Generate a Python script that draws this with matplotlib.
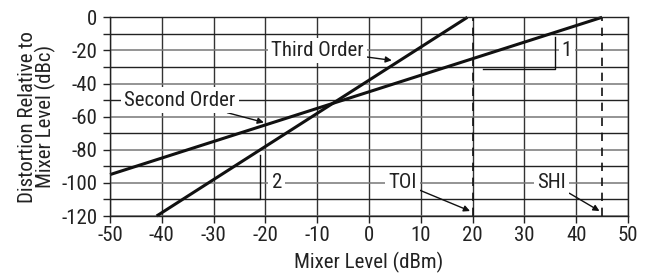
import matplotlib
matplotlib.use("Agg")
import matplotlib.pyplot as plt
from matplotlib.ticker import MultipleLocator

plt.rcParams['font.family'] = ['Roboto Condensed', 'Archivo Narrow', 'PT Sans Narrow', 'DejaVu Sans']
plt.rcParams['axes.unicode_minus'] = False

# Data
second_x = [-50, 45]
second_y = [-95, 0]
third_x = [-41, 19]
third_y = [-120, 0]
toi_x = 20
shi_x = 45
tri2_x = [-30, -21, -21]
tri2_y = [-110, -110, -83]
tri1_x = [22, 36, 36]
tri1_y = [-31, -31, -12]

x_ticks = list(range(-50, 51, 10))
y_ticks = list(range(-120, 1, 20))

fig = plt.figure(figsize=(6.46, 2.78), dpi=100)
ax = fig.add_axes([0.1703, 0.2230, 0.8018, 0.7148])

ax.set_xlim(-50, 50)
ax.set_ylim(-120, 0)
ax.set_xticks(x_ticks)
ax.set_yticks(y_ticks)
ax.yaxis.set_minor_locator(MultipleLocator(10))

fs = 15
ax.tick_params(axis='both', which='both', direction='out', length=5, width=1,
               labelsize=fs, colors='#222222')
ax.tick_params(axis='x', pad=2)
ax.tick_params(axis='y', pad=4)

# grid
ax.grid(True, which='major', axis='x', color='#333333', linewidth=1, zorder=0)
ax.grid(True, which='major', axis='y', color='#777777', linewidth=1.1, zorder=0)
ax.grid(True, which='minor', axis='y', color='#222222', linewidth=1, zorder=0)
ax.set_axisbelow(True)
for s in ax.spines.values():
    s.set_color('#222222')
    s.set_linewidth(1)

ax.plot(second_x, second_y, color='#111111', lw=2.2, solid_capstyle='butt', zorder=2, clip_on=False)
ax.plot(third_x, third_y, color='#111111', lw=2.2, solid_capstyle='butt', zorder=2, clip_on=False)
ax.plot([toi_x, toi_x], [-120, 0], color='#111111', lw=1.2, ls=(0, (5, 4)), zorder=2)
ax.plot([shi_x, shi_x], [-120, 0], color='#111111', lw=1.2, ls=(0, (5, 4)), zorder=2)
ax.plot(tri2_x, tri2_y, color='#111111', lw=1, zorder=2)
ax.plot(tri1_x, tri1_y, color='#111111', lw=1, zorder=2)

bb = dict(boxstyle='square,pad=0.15', fc='white', ec='none')
ap = dict(arrowstyle='-|>', color='#111111', lw=1, mutation_scale=9, shrinkA=0, shrinkB=0)

ax.annotate('Third Order', xy=(4.4, -26), xytext=(-10, -20), fontsize=fs,
            ha='center', va='center', bbox=bb, arrowprops=ap, color='#222222', zorder=4)
ax.annotate('Second Order', xy=(-20.3, -63.5), xytext=(-36.5, -50), fontsize=fs,
            ha='center', va='center', bbox=bb, arrowprops=ap, color='#222222', zorder=4)
ax.annotate('TOI', xy=(19.5, -117), xytext=(6.4, -100), fontsize=fs,
            ha='center', va='center', bbox=bb, arrowprops=ap, color='#222222', zorder=4)
ax.annotate('SHI', xy=(44.5, -117), xytext=(35.3, -100), fontsize=fs,
            ha='center', va='center', bbox=bb, arrowprops=ap, color='#222222', zorder=4)
ax.text(-17.8, -100, '2', fontsize=fs, ha='center', va='center', bbox=bb, color='#222222', zorder=4)
ax.text(38.2, -20, '1', fontsize=fs, ha='center', va='center', bbox=bb, color='#222222', zorder=4)

ax.set_xlabel('Mixer Level (dBm)', fontsize=fs, color='#222222', labelpad=5)
ax.set_ylabel('Distortion Relative to\nMixer Level (dBc)', fontsize=fs, color='#222222',
              labelpad=4, linespacing=0.85)

fig.savefig('out.png', dpi=100)
